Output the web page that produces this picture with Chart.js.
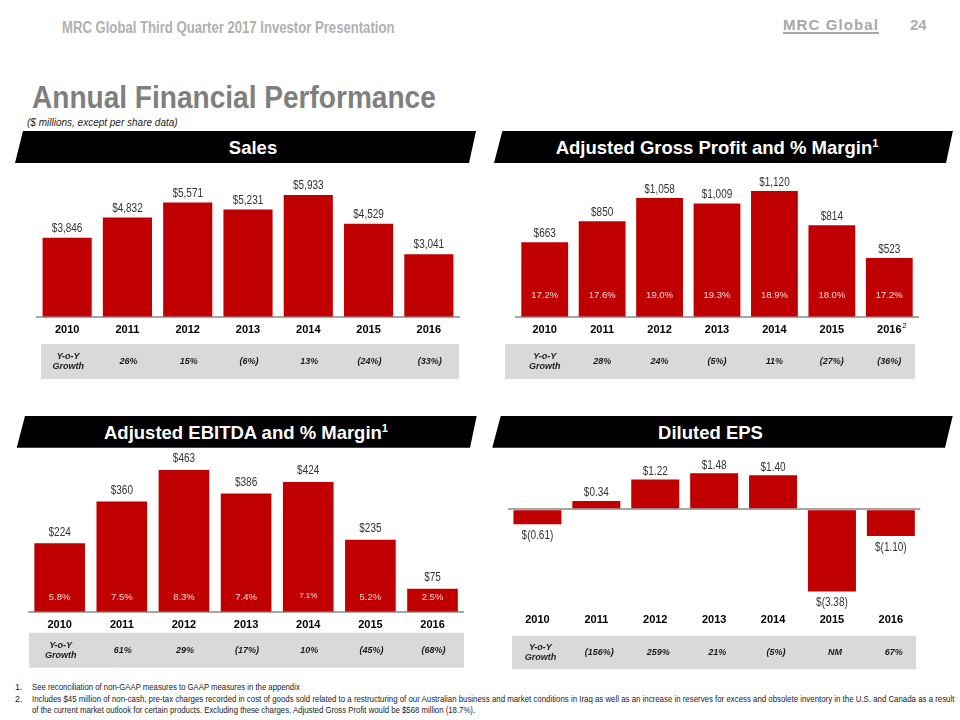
<!DOCTYPE html>
<html>
<head>
<meta charset="utf-8">
<script src="https://cdn.jsdelivr.net/npm/chart.js@4.4.1/dist/chart.umd.min.js"></script>
<style>
  html, body { margin:0; padding:0; background:#fff; }
  #slide { position:relative; width:960px; height:720px; overflow:hidden; font-family:"Liberation Sans", Arial, sans-serif; }
  .abs { position:absolute; white-space:nowrap; line-height:1; }
  .hdr { position:absolute; background:#000; }
  .hdrtxt { position:absolute; color:#fff; font-weight:bold; font-size:18.5px; line-height:1; white-space:nowrap; transform:translateX(-50%); }
  .hdrtxt sup { font-size:11px; line-height:0; vertical-align:7px; }
  canvas { position:absolute; }
  .fn { position:absolute; font-size:9px; line-height:1; color:#222; white-space:nowrap; transform-origin:left top; }
</style>
</head>
<body>
<div id="slide">
  <div class="abs" style="left:61.7px; top:19.6px; font-size:16px; font-weight:bold; color:#b0b0b0; transform:scaleX(0.82); transform-origin:left top;">MRC Global Third Quarter 2017 Investor Presentation</div>
  <div class="abs" style="left:783px; top:17.3px; font-size:15px; font-weight:bold; color:#a8a8a8; letter-spacing:1.1px; text-decoration:underline; text-decoration-thickness:1.5px; text-underline-offset:2px;">MRC Global</div>
  <div class="abs" style="left:910px; top:17.3px; font-size:15px; font-weight:bold; color:#adadad;">24</div>

  <div class="abs" style="left:31.7px; top:82px; font-size:31px; font-weight:bold; color:#7f7f7f; transform:scaleX(0.905); transform-origin:left top;">Annual Financial Performance</div>
  <div class="abs" style="left:27px; top:117.5px; font-size:10px; font-style:italic; color:#222;">($ millions, except per share data)</div>

  <div class="hdr" style="left:15px; top:131px; width:461px; height:32px; clip-path:polygon(8px 0, 100% 0, calc(100% - 7px) 100%, 0 100%);"></div>
  <div class="hdrtxt" style="left:253px; top:138.6px;">Sales</div>

  <div class="hdr" style="left:494px; top:130.5px; width:459px; height:32.5px; clip-path:polygon(8.5px 0, 100% 0, calc(100% - 7px) 100%, 0 100%);"></div>
  <div class="hdrtxt" style="left:717px; top:138.6px;">Adjusted Gross Profit and % Margin<sup>1</sup></div>

  <div class="hdr" style="left:16.7px; top:416px; width:460px; height:31.7px; clip-path:polygon(8.3px 0, 100% 0, calc(100% - 6.7px) 100%, 0 100%);"></div>
  <div class="hdrtxt" style="left:246px; top:423.6px;">Adjusted EBITDA and % Margin<sup>1</sup></div>

  <div class="hdr" style="left:492.3px; top:416px; width:460.4px; height:31.7px; clip-path:polygon(8.4px 0, 100% 0, calc(100% - 7.7px) 100%, 0 100%);"></div>
  <div class="hdrtxt" style="left:710.5px; top:423.6px;">Diluted EPS</div>

  <canvas id="cSales" width="480" height="220" style="left:0px; top:165px;"></canvas>
  <canvas id="cGP" width="480" height="220" style="left:480px; top:165px;"></canvas>
  <canvas id="cEBITDA" width="480" height="225" style="left:0px; top:450px;"></canvas>
  <canvas id="cEPS" width="480" height="225" style="left:480px; top:450px;"></canvas>

  <div class="fn" style="left:15px; top:682.7px;">1.</div>
  <div class="fn" style="left:32px; top:682.7px; transform:scaleX(0.86);">See reconciliation of non-GAAP measures to GAAP measures in the appendix</div>
  <div class="fn" style="left:15px; top:694.7px;">2.</div>
  <div class="fn" style="left:32px; top:694.7px; transform:scaleX(0.873);">Includes $45 million of non-cash, pre-tax charges recorded in cost of goods sold related to a restructuring of our Australian business and market conditions in Iraq as well as an increase in reserves for excess and obsolete inventory in the U.S. and Canada as a result</div>
  <div class="fn" style="left:32px; top:706.2px; transform:scaleX(0.865);">of the current market outlook for certain products. Excluding these charges, Adjusted Gross Profit would be $568 million (18.7%).</div>
</div>

<script>
// ---------------- DATA ----------------
const years = ['2010', '2011', '2012', '2013', '2014', '2015', '2016'];

const salesValues = [3846, 4832, 5571, 5231, 5933, 4529, 3041];
const salesGrowth = ['26%', '15%', '(6%)', '13%', '(24%)', '(33%)'];

const gpValues = [663, 850, 1058, 1009, 1120, 814, 523];
const gpMargins = ['17.2%', '17.6%', '19.0%', '19.3%', '18.9%', '18.0%', '17.2%'];
const gpGrowth = ['28%', '24%', '(5%)', '11%', '(27%)', '(36%)'];
const gpTickNotes = ['', '', '', '', '', '', '2'];

const ebitdaValues = [224, 360, 463, 386, 424, 235, 75];
const ebitdaMargins = ['5.8%', '7.5%', '8.3%', '7.4%', '7.1%', '5.2%', '2.5%'];
const ebitdaGrowth = ['61%', '29%', '(17%)', '10%', '(45%)', '(68%)'];

const epsValues = [-0.61, 0.34, 1.22, 1.48, 1.40, -3.38, -1.10];
const epsGrowth = ['(156%)', '259%', '21%', '(5%)', 'NM', '67%'];

const growthHeader = ['Y-o-Y', 'Growth'];

// ---------------- HELPERS ----------------
const FONT = '"Liberation Sans", Arial, sans-serif';
Chart.defaults.font.family = FONT;

function fmtMoney(v) {
  return '$' + v.toLocaleString('en-US');
}
function fmtEps(v) {
  const s = Math.abs(v).toFixed(2);
  return v < 0 ? '$(' + s + ')' : '$' + s;
}

function makePlugin(cfg) {
  return {
    id: 'slideLabels_' + cfg.name,
    afterDatasetsDraw(chart) {
      const ctx = chart.ctx;
      const meta = chart.getDatasetMeta(0);
      const vals = chart.data.datasets[0].data;
      const xs = chart.scales.x;
      const area = chart.chartArea;

      meta.data.forEach((bar, i) => {
        const v = vals[i];
        ctx.save();
        ctx.fillStyle = '#333333';
        ctx.font = '12.5px ' + FONT;
        ctx.textAlign = 'center';
        ctx.textBaseline = 'middle';
        const y = v >= 0 ? bar.y - cfg.above : bar.y + cfg.below;
        ctx.translate(bar.x, y);
        ctx.scale(0.8, 1);
        ctx.fillText(cfg.fmt(v), 0, 0);
        ctx.restore();
        if (cfg.margins) {
          ctx.save();
          ctx.fillStyle = '#f6dada';
          const small = cfg.smallIdx && cfg.smallIdx.includes(i);
          ctx.font = (small ? '8px ' : '9.5px ') + FONT;
          ctx.textAlign = 'center';
          ctx.textBaseline = 'middle';
          ctx.fillText(cfg.margins[i], bar.x, bar.base - cfg.marginOff - (small ? 1.5 : 0));
          ctx.restore();
        }
      });

      if (cfg.tickNotes) {
        cfg.tickNotes.forEach((n, i) => {
          if (!n) return;
          ctx.save();
          ctx.fillStyle = '#000';
          ctx.font = '8px ' + FONT;
          ctx.textAlign = 'left';
          ctx.textBaseline = 'middle';
          ctx.fillText(n, xs.getPixelForValue(i) + 13, area.bottom + cfg.tickY - 5);
          ctx.restore();
        });
      }

      const t = cfg.table;
      ctx.save();
      ctx.fillStyle = '#d9d9d9';
      ctx.fillRect(t.x0, t.y0, t.x1 - t.x0, t.y1 - t.y0);
      const cy = (t.y0 + t.y1) / 2;
      ctx.fillStyle = '#1a1a1a';
      ctx.font = 'italic bold 9px ' + FONT;
      ctx.textAlign = 'center';
      ctx.textBaseline = 'middle';
      const hx = xs.getPixelForValue(0) + t.dx;
      ctx.fillText(growthHeader[0], hx, cy - 4.8);
      ctx.fillText(growthHeader[1], hx, cy + 5.2);
      cfg.growth.forEach((g, k) => {
        ctx.fillText(g, xs.getPixelForValue(k + 1) + t.dx, cy + 0.5);
      });
      ctx.restore();
    }
  };
}

function makeChart(id, values, cfg) {
  const yScale = cfg.zeroLine ? {
    display: true,
    min: cfg.min, max: cfg.max,
    ticks: { display: false, stepSize: 1 },
    border: { display: false },
    grid: {
      drawTicks: false,
      color: c => (c.tick && c.tick.value === 0 ? '#a6a6a6' : 'rgba(0,0,0,0)'),
      lineWidth: c => (c.tick && c.tick.value === 0 ? 2 : 0)
    }
  } : { display: false, min: cfg.min, max: cfg.max };

  return new Chart(document.getElementById(id), {
    type: 'bar',
    data: {
      labels: years,
      datasets: [{
        data: values,
        backgroundColor: '#c00000',
        borderWidth: 0,
        barPercentage: 0.815,
        categoryPercentage: 1.0
      }]
    },
    options: {
      responsive: false,
      animation: false,
      devicePixelRatio: 1,
      layout: { padding: cfg.pad },
      plugins: { legend: { display: false }, tooltip: { enabled: false } },
      scales: {
        x: {
          grid: { display: false, drawTicks: false },
          border: { display: !cfg.zeroLine, color: '#a6a6a6', width: 2 },
          ticks: { color: '#000', font: { size: 11, weight: 'bold' }, padding: 7, maxRotation: 0, autoSkip: false },
          afterFit: s => { s.height = 22; }
        },
        y: yScale
      }
    },
    plugins: [makePlugin(cfg)]
  });
}

// ---------------- CHARTS ----------------
makeChart('cSales', salesValues, {
  name: 'sales', fmt: fmtMoney, above: 9.3, below: 11,
  min: 0, max: 7152,
  pad: { left: 37, right: 21, top: 5, bottom: 46.3 },
  growth: salesGrowth,
  table: { x0: 41, x1: 459, y0: 179, y1: 214, dx: 1 },
  tickY: 13.6
});

makeChart('cGP', gpValues, {
  name: 'gp', fmt: fmtMoney, above: 8.5, below: 11,
  min: 0, max: 1307,
  pad: { left: 36, right: 42, top: 5, bottom: 46.3 },
  margins: gpMargins, marginOff: 21.7,
  growth: gpGrowth, tickNotes: gpTickNotes,
  table: { x0: 25, x1: 435, y0: 179, y1: 214, dx: 0 },
  tickY: 13.6
});

makeChart('cEBITDA', ebitdaValues, {
  name: 'ebitda', fmt: fmtMoney, above: 11, below: 11,
  min: 0, max: 512,
  pad: { left: 28.6, right: 16.4, top: 5, bottom: 41.3 },
  margins: ebitdaMargins, marginOff: 14.4, smallIdx: [4],
  growth: ebitdaGrowth,
  table: { x0: 29, x1: 464, y0: 182.7, y1: 217.7, dx: 1 },
  tickY: 13.6
});

makeChart('cEPS', epsValues, {
  name: 'eps', fmt: fmtEps, above: 8, below: 11,
  min: -3.975, max: 2.232, zeroLine: true,
  pad: { left: 28, right: 39.7, top: 5, bottom: 47 },
  growth: epsGrowth,
  table: { x0: 32, x1: 436, y0: 185.7, y1: 219.3, dx: 3 },
  tickY: 13.6
});
</script>
</body>
</html>
